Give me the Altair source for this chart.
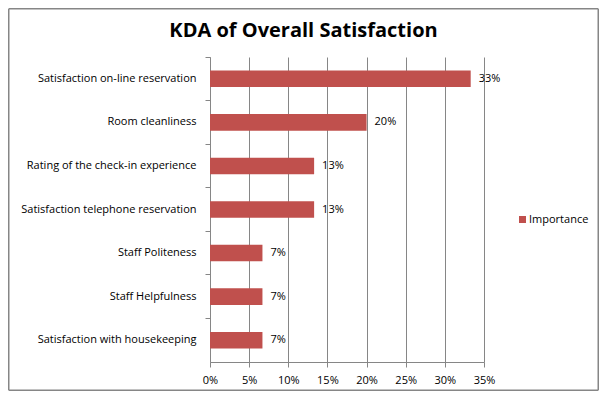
import altair as alt
import pandas as pd

categories = [
    "Satisfaction on-line reservation",
    "Room cleanliness",
    "Rating of the check-in experience",
    "Satisfaction telephone reservation",
    "Staff Politeness",
    "Staff Helpfulness",
    "Satisfaction with housekeeping",
]
importance = [0.333, 0.200, 0.133, 0.133, 0.067, 0.067, 0.067]
series_name = "Importance"
tick_values = [0, 0.05, 0.10, 0.15, 0.20, 0.25, 0.30, 0.35]
title_text = "KDA of Overall Satisfaction"

df = pd.DataFrame({"category": categories, "value": importance, "series": series_name})
one = pd.DataFrame({"t": [title_text]})

FONT = "Open Sans"
GRAY = "#868686"
RED = "#C0504D"

y_enc = alt.Y(
    "category:N",
    sort=categories,
    scale=alt.Scale(paddingInner=0, paddingOuter=0),
    axis=alt.Axis(
        title=None, bandPosition=0, tickSize=5, labelPadding=9, grid=False,
        domainColor=GRAY, tickColor=GRAY, labelColor="black",
        labelFont=FONT, labelFontSize=11, labelLimit=0,
    ),
)
x_enc = alt.X(
    "value:Q",
    scale=alt.Scale(domain=[0, 0.35], nice=False),
    axis=alt.Axis(
        title=None, format=".0%", values=tick_values, grid=True, gridColor=GRAY,
        domainColor=GRAY, tickColor=GRAY, tickSize=5, labelPadding=7,
        labelColor="black", labelFont=FONT, labelFontSize=11, labelFlush=False,
        labelOverlap=False,
    ),
)

bars = alt.Chart(df).mark_bar(height=alt.RelativeBandSize(0.38)).encode(
    x=x_enc,
    y=y_enc,
    color=alt.Color(
        "series:N",
        scale=alt.Scale(range=[RED]),
        legend=alt.Legend(
            title=None, orient="none", legendX=307, legendY=157,
            symbolType="square", symbolSize=49, symbolStrokeWidth=0,
            labelFont=FONT, labelFontSize=11, labelColor="black",
            padding=0, labelOffset=1,
        ),
    ),
)

labels = alt.Chart(df).mark_text(
    align="left", dx=8, font=FONT, fontSize=11, color="black"
).encode(
    x=x_enc,
    y=y_enc,
    text=alt.Text("value:Q", format=".0%"),
)

title = alt.Chart(one).mark_text(
    font=FONT, fontSize=20, fontWeight="bold", color="black",
    align="center", baseline="alphabetic",
).encode(text="t:N", x=alt.value(93.5), y=alt.value(-20.5))

def edge(x1, x2, y1, y2):
    return alt.Chart(one).mark_rule(color=GRAY, strokeWidth=1.5).encode(
        x=alt.value(x1), x2=alt.value(x2), y=alt.value(y1), y2=alt.value(y2)
    )

L, R, T, B = -201.25, 388.25, -48.25, 333.25
border = [edge(L, R, T, T), edge(L, R, B, B), edge(L, L, T, B), edge(R, R, T, B)]

chart = alt.layer(bars, labels, title, *border).properties(
    width=274,
    height=305,
    padding={"left": 202, "top": 49, "right": 115, "bottom": 29},
    autosize=alt.AutoSizeParams(type="none"),
).configure_view(stroke=None)

chart.save("out.html", embed_options={"renderer": "svg", "actions": False})
